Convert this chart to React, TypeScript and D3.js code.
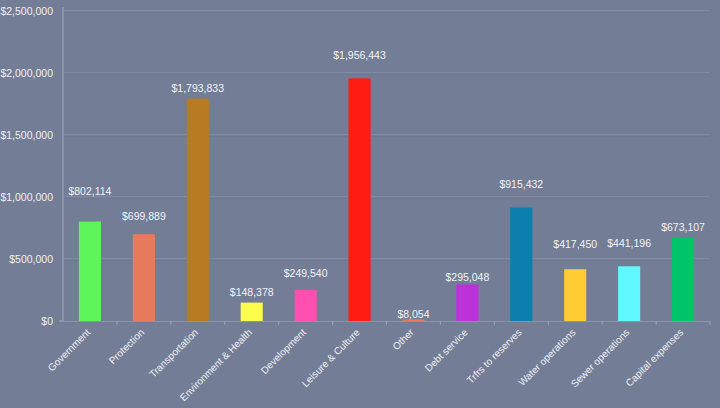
import React from "react";
import * as d3 from "d3";

const categories = [
  "Government",
  "Protection",
  "Transportation",
  "Environment & Health",
  "Development",
  "Leisure & Culture",
  "Other",
  "Debt service",
  "Trfrs to reserves",
  "Water operations",
  "Sewer operations",
  "Capital expenses",
];

const values = [802114, 699889, 1793833, 148378, 249540, 1956443, 8054, 295048, 915432, 417450, 441196, 673107];

const colors = [
  "#5ef55a",
  "#e77b5c",
  "#b77c22",
  "#fcfc4a",
  "#ff4fb0",
  "#ff1c12",
  "#e77b5c",
  "#bb33d8",
  "#0d7fae",
  "#ffcc33",
  "#5ff8ff",
  "#00c46a",
];

const yTicks = [0, 500000, 1000000, 1500000, 2000000, 2500000];

// vertical lift of each value label above its bar (layout only)
const labelLift = [27, 14, 7, 7, 13, 19, 2, 3, 19, 21, 19, 7];

const W = 720;
const H = 408;
const M = { left: 63, right: 10, top: 11, bottom: 87 };

export default function App() {
  const x = d3
    .scaleBand<string>()
    .domain(categories)
    .range([M.left, W - M.right])
    .paddingInner(0)
    .paddingOuter(0);
  const y = d3.scaleLinear().domain([0, 2500000]).range([H - M.bottom, M.top]);
  const fmt = (v: number) => "$" + d3.format(",")(v);
  const bw = x.bandwidth() * 0.41;
  const font = "'Liberation Sans', Arial, sans-serif";

  return (
    <svg
      width={W}
      height={H}
      style={{ position: "absolute", left: 0, top: 0, display: "block" }}
    >
      <rect x={0} y={0} width={W} height={H} fill="#737d96" />
      {yTicks.map((t) => (
        <g key={t}>
          {t > 0 && (
            <>
              <line x1={M.left} x2={W - M.right} y1={y(t)} y2={y(t)} stroke="#8f98ae" strokeWidth={1} />
              <line x1={M.left} x2={W - M.right} y1={y(t) + 1} y2={y(t) + 1} stroke="#6c758d" strokeWidth={1} />
            </>
          )}
          <text
            x={M.left - 10}
            y={y(t)}
            dy="0.35em"
            textAnchor="end"
            fontFamily={font}
            fontSize={10.5}
            fill="#eef0f4"
          >
            {fmt(t)}
          </text>
        </g>
      ))}
      {/* axes */}
      <line x1={M.left} x2={M.left} y1={M.top - 4} y2={y(0)} stroke="#a3aabd" strokeWidth={1} />
      <line x1={M.left} x2={W - M.right} y1={y(0) + 0.5} y2={y(0) + 0.5} stroke="#8a93a9" strokeWidth={1} />
      <line x1={M.left - 4} x2={M.left} y1={y(0)} y2={y(0)} stroke="#a3aabd" />
      {categories.map((c, i) => (
        <line
          key={"tk" + i}
          x1={(x(c) as number) + x.bandwidth()}
          x2={(x(c) as number) + x.bandwidth()}
          y1={y(0)}
          y2={y(0) + 4}
          stroke="#9aa2b6"
        />
      ))}
      {categories.map((c, i) => {
        const cx = (x(c) as number) + x.bandwidth() / 2;
        const top = y(values[i]);
        const h = Math.max(1.5, y(0) - top);
        return (
          <g key={c}>
            <rect x={cx - bw / 2} y={y(0) - h} width={bw} height={h} fill={colors[i]} />
            <text
              x={cx}
              y={y(0) - h - labelLift[i]}
              textAnchor="middle"
              fontFamily={font}
              fontSize={10.5}
              fill="#f2f3f6"
            >
              {fmt(values[i])}
            </text>
            <text
              transform={`translate(${cx + 1},${y(0) + 12}) rotate(-45)`}
              textAnchor="end"
              fontFamily={font}
              fontSize={10}
              fill="#eef0f4"
            >
              {c}
            </text>
          </g>
        );
      })}
    </svg>
  );
}
